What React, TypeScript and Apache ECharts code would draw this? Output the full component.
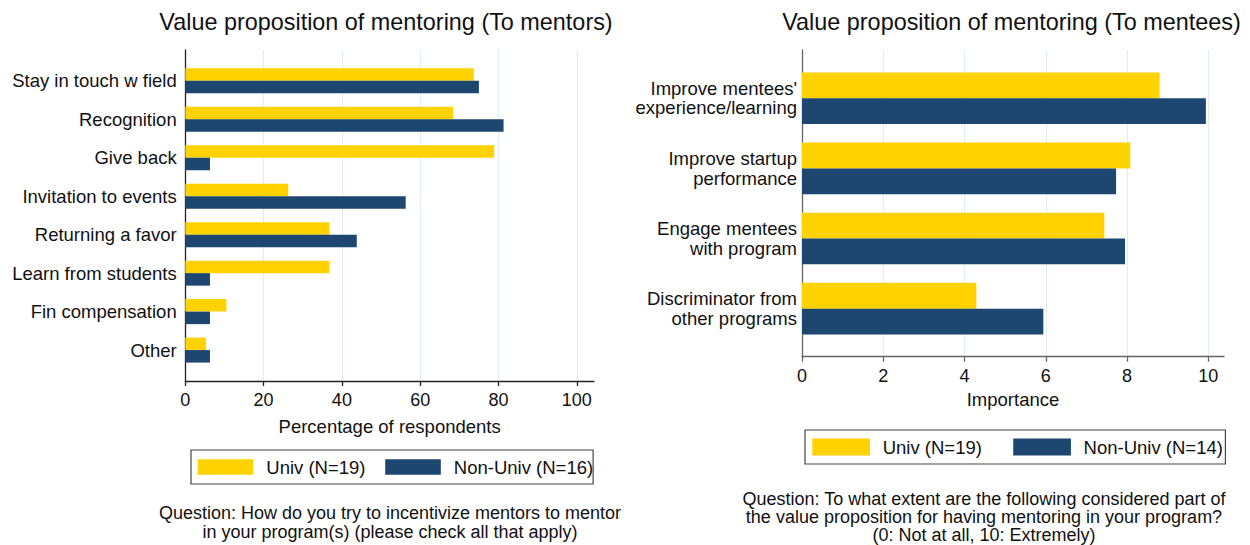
import React, { useEffect, useRef } from "react";
import * as echarts from "echarts";

// ---------- data ----------
const mentorCategories = [
  "Stay in touch w field",
  "Recognition",
  "Give back",
  "Invitation to events",
  "Returning a favor",
  "Learn from students",
  "Fin compensation",
  "Other",
];
const mentorUniv = [73.7, 68.4, 78.9, 26.3, 36.8, 36.8, 10.5, 5.3];
const mentorNonUniv = [75.0, 81.3, 6.3, 56.3, 43.8, 6.3, 6.3, 6.3];
const mentorTicks = [0, 20, 40, 60, 80, 100];

const menteeCategories = [
  "Improve mentees'\nexperience/learning",
  "Improve startup\nperformance",
  "Engage mentees\nwith program",
  "Discriminator from\nother programs",
];
const menteeUniv = [8.8, 8.08, 7.44, 4.29];
const menteeNonUniv = [9.94, 7.73, 7.95, 5.94];
const menteeTicks = [0, 2, 4, 6, 8, 10];

const univName = "Univ (N=19)";
const nonUnivMentorName = "Non-Univ (N=16)";
const nonUnivMenteeName = "Non-Univ (N=14)";

const leftTitle = "Value proposition of mentoring (To mentors)";
const rightTitle = "Value proposition of mentoring (To mentees)";
const leftAxisName = "Percentage of respondents";
const rightAxisName = "Importance";
const leftCaptionLines = [
  "Question: How do you try to incentivize mentors to mentor",
  "in your program(s) (please check all that apply)",
];
const rightCaptionLines = [
  "Question: To what extent are the following considered part of",
  "the value proposition for having mentoring in your program?",
  "(0: Not at all, 10: Extremely)",
];

// ---------- style ----------
const FONT = "'Liberation Sans', Arial, Helvetica, sans-serif";
const YELLOW = "#FFD200";
const NAVY = "#1D4670";
const GRIDLINE = "#E2EBEE";
const TXT = "#111111";

export default function App() {
  const ref = useRef<HTMLDivElement>(null);

  useEffect(() => {
    if (!ref.current) return;
    const chart = echarts.init(ref.current, undefined, { renderer: "svg" });

    const leftMax = 104.4;
    const rightMax = 10.386;

    const frameX = (max: number, ticks: number[], lineColor: string, name: string, gap: number, gridIndex: number) => ({
      type: "value",
      gridIndex,
      min: 0,
      max,
      name,
      nameLocation: "middle",
      nameGap: gap,
      nameTextStyle: { fontSize: 18.5, color: TXT, fontFamily: FONT },
      axisLine: { show: true, lineStyle: { color: lineColor, width: 1.3 } },
      axisTick: { show: true, length: 5, customValues: ticks, lineStyle: { color: lineColor, width: 1.3 } },
      axisLabel: { show: true, customValues: ticks, margin: 10, fontSize: 18, color: TXT, fontFamily: FONT },
      splitLine: { show: true, lineStyle: { color: GRIDLINE, width: 1 } },
    });
    const frameY = (lineColor: string, gridIndex: number) => ({
      type: "value",
      gridIndex,
      min: 0,
      max: 1,
      axisLine: { show: true, lineStyle: { color: lineColor, width: 1.3 } },
      axisTick: { show: false },
      axisLabel: { show: false },
      splitLine: { show: false },
    });
    const barX = (max: number, gridIndex: number) => ({
      type: "value",
      gridIndex,
      min: 0,
      max,
      show: false,
      splitLine: { show: false },
    });

    const captionText = (text: string, x: number, y: number) => ({
      type: "text",
      x,
      y,
      style: {
        text,
        fontSize: 18,
        fontFamily: FONT,
        fill: TXT,
        align: "center",
        verticalAlign: "middle",
      },
    });

    const option: any = {
      animation: false,
      backgroundColor: "#ffffff",
      textStyle: { fontFamily: FONT },
      grid: [
        { left: 185.3, top: 50, width: 408.7, height: 331, outerBoundsMode: "none" },
        { left: 185.3, top: 61.6, width: 408.7, height: 307.7, outerBoundsMode: "none" },
        { left: 802, top: 50, width: 422, height: 306.7, outerBoundsMode: "none" },
        { left: 802, top: 63.2, width: 422, height: 280.5, outerBoundsMode: "none" },
      ],
      xAxis: [
        frameX(leftMax, mentorTicks, "#222222", leftAxisName, 36, 0),
        barX(leftMax, 1),
        frameX(rightMax, menteeTicks, "#666666", rightAxisName, 32, 2),
        barX(rightMax, 3),
      ],
      yAxis: [
        frameY("#222222", 0),
        {
          type: "category",
          gridIndex: 1,
          inverse: true,
          data: mentorCategories,
          axisLine: { show: false },
          axisTick: { show: false },
          splitLine: { show: false },
          axisLabel: {
            margin: 8.6,
            fontSize: 18.5,
            color: TXT,
            fontFamily: FONT,
            padding: [0, 0, 7, 0],
          },
        },
        frameY("#666666", 2),
        {
          type: "category",
          gridIndex: 3,
          inverse: true,
          data: menteeCategories,
          axisLine: { show: false },
          axisTick: { show: false },
          splitLine: { show: false },
          axisLabel: {
            margin: 5,
            fontSize: 18.5,
            lineHeight: 19.4,
            color: TXT,
            fontFamily: FONT,
            align: "right",
          },
        },
      ],
      legend: [
        {
          left: 191,
          top: 450,
          orient: "horizontal",
          icon: "rect",
          itemWidth: 55.6,
          itemHeight: 15.3,
          itemGap: 19.7,
          padding: [7.5, 0, 7.5, 6.7],
          borderColor: "#444444",
          borderWidth: 1.2,
          selectedMode: false,
          data: [univName, nonUnivMentorName],
          textStyle: { fontSize: 18.5, color: TXT, fontFamily: FONT, padding: [0, 0, 0, 8] },
        },
        {
          left: 805,
          top: 430,
          orient: "horizontal",
          icon: "rect",
          itemWidth: 57.7,
          itemHeight: 17,
          itemGap: 31.3,
          padding: [7.5, 2.5, 7.5, 7.3],
          borderColor: "#444444",
          borderWidth: 1.2,
          selectedMode: false,
          data: [univName, nonUnivMenteeName],
          textStyle: { fontSize: 18.5, color: TXT, fontFamily: FONT, padding: [0, 0, 0, 7.7] },
        },
      ],
      series: [
        {
          name: univName,
          type: "bar",
          xAxisIndex: 1,
          yAxisIndex: 1,
          data: mentorUniv,
          barWidth: 12.5,
          barGap: "0%",
          itemStyle: { color: YELLOW },
        },
        {
          name: nonUnivMentorName,
          type: "bar",
          xAxisIndex: 1,
          yAxisIndex: 1,
          data: mentorNonUniv,
          barWidth: 12.5,
          barGap: "0%",
          itemStyle: { color: NAVY },
        },
        {
          name: univName,
          type: "bar",
          xAxisIndex: 3,
          yAxisIndex: 3,
          data: menteeUniv,
          barWidth: 25.8,
          barGap: "0%",
          itemStyle: { color: YELLOW },
        },
        {
          name: nonUnivMenteeName,
          type: "bar",
          xAxisIndex: 3,
          yAxisIndex: 3,
          data: menteeNonUniv,
          barWidth: 25.8,
          barGap: "0%",
          itemStyle: { color: NAVY },
        },
      ],
      graphic: [
        {
          type: "text",
          x: 386,
          y: 21.7,
          style: {
            text: leftTitle,
            fontSize: 23.4,
            fontFamily: FONT,
            fill: TXT,
            align: "center",
            verticalAlign: "middle",
          },
        },
        {
          type: "text",
          x: 1011.5,
          y: 21.5,
          style: {
            text: rightTitle,
            fontSize: 23.4,
            fontFamily: FONT,
            fill: TXT,
            align: "center",
            verticalAlign: "middle",
          },
        },
        captionText(leftCaptionLines[0], 390, 513.3),
        captionText(leftCaptionLines[1], 390, 531.7),
        captionText(rightCaptionLines[0], 984, 499),
        captionText(rightCaptionLines[1], 984, 517),
        captionText(rightCaptionLines[2], 984, 535),
      ],
    };

    chart.setOption(option);
    return () => chart.dispose();
  }, []);

  return (
    <div
      ref={ref}
      style={{ position: "fixed", left: 0, top: 0, width: 1250, height: 545, background: "#ffffff" }}
    />
  );
}
